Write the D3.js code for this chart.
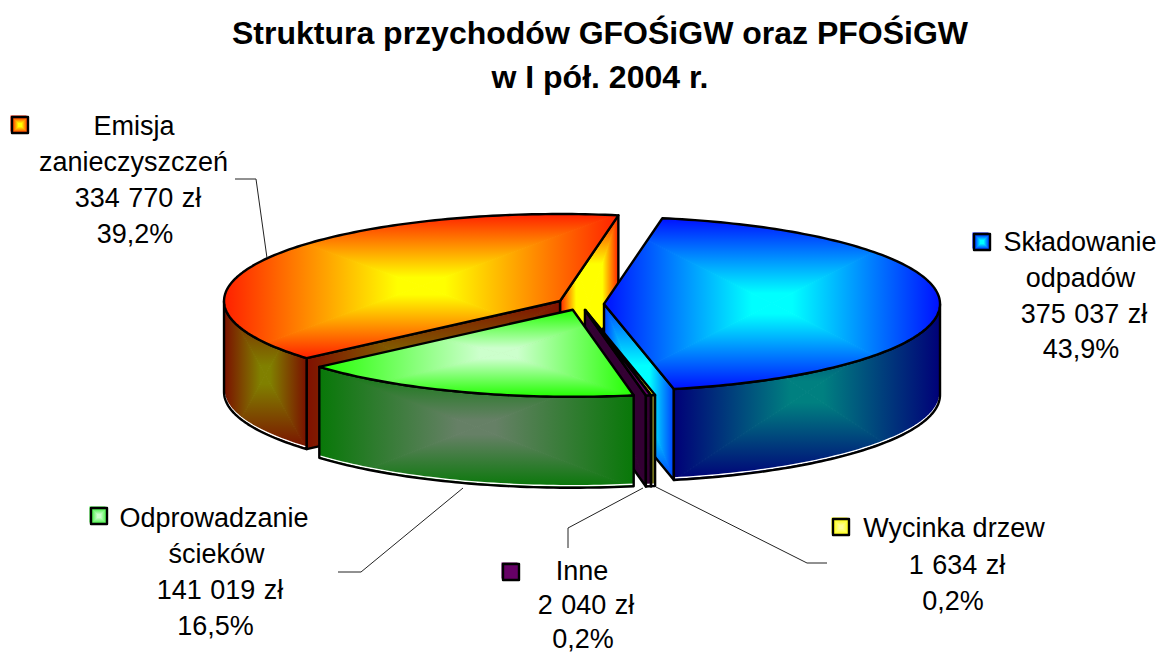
<!doctype html>
<html lang="pl">
<head>
<meta charset="utf-8" />
<title>Struktura przychodów</title>
<script src="https://d3js.org/d3.v7.min.js"></script>
<style>
    body { margin: 0; padding: 0; background: #fff; }
    svg { display: block; }
    text { font-family: "Liberation Sans", Arial, sans-serif; fill: #000; }
</style>
</head>
<body>
<script>
// dane
const categories = ["Składowanie odpadów", "Wycinka drzew", "Inne", "Odprowadzanie ścieków", "Emisja zanieczyszczeń"];
const values = [375037, 1634, 2040, 141019, 334770];
const amountLabels = ["375 037 zł", "1 634 zł", "2 040 zł", "141 019 zł", "334 770 zł"];
const percentLabels = ["43,9%", "0,2%", "0,2%", "16,5%", "39,2%"];
const titleLines = ["Struktura przychodów GFOŚiGW oraz PFOŚiGW", "w I pół. 2004 r."];

// kolory: [krawedz, srodek] dla kazdej sciany
const topColors = [["#0010ff", "#00ffff"], ["#ffff00", "#ffff00"], ["#660066", "#660066"], ["#22ff00", "#ccffcc"], ["#ff2000", "#ffff00"]];
const wallColors = [["#000078", "#008080"], ["#808020", "#808020"], ["#330033", "#330033"], ["#087808", "#668066"], ["#7a1000", "#808000"]];
const sideColors = [["#0040ff", "#00ffff"], ["#ffff00", "#ffff00"], ["#330033", "#330033"], ["#087808", "#668066"], ["#ff2000", "#ffff00"]];
const backWallColors = ["#801000", "#806000"];

// kolejnosc malowania: od tylu do przodu
const drawOrder = [4, 0, 1, 2, 3];

const width = 1160, height = 654;
const rotation = 10 * Math.PI / 180;
const explode = 0.07;
const depth = 91;

const svg = d3.select("body").append("svg").attr("width", width).attr("height", height);
const defs = svg.append("defs");

const x = d3.scaleLinear().domain([-1, 1]).range([244.5, 916.5]);
const y = d3.scaleLinear().domain([-1, 1]).range([217, 391]);

const slices = d3.pie().sort(null).startAngle(rotation).endAngle(rotation + 2 * Math.PI)(values);

const line = d3.line();
let uid = 0;

// gradient "od srodka": cztery trojkaty przyciete do ksztaltu
function facetFill(parent, points, colors, focus, plateau) {
    const x0 = d3.min(points, d => d[0]), x1 = d3.max(points, d => d[0]);
    const y0 = d3.min(points, d => d[1]), y1 = d3.max(points, d => d[1]);
    const fx = x0 + (x1 - x0) * (focus ? focus[0] : 0.5);
    const fy = y0 + (y1 - y0) * (focus ? focus[1] : 0.5);
    const id = "f" + (uid++);

    defs.append("clipPath").attr("id", id).append("path").attr("d", line(points) + "Z");
    const group = parent.append("g").attr("clip-path", `url(#${id})`);

    const facets = [
        { from: [fx, y0], tri: [[x0, y0], [x1, y0]] },
        { from: [x1, fy], tri: [[x1, y0], [x1, y1]] },
        { from: [fx, y1], tri: [[x1, y1], [x0, y1]] },
        { from: [x0, fy], tri: [[x0, y1], [x0, y0]] }
    ];
    facets.forEach((f, i) => {
        const gid = id + "g" + i;
        const grad = defs.append("linearGradient").attr("id", gid)
            .attr("gradientUnits", "userSpaceOnUse")
            .attr("x1", f.from[0]).attr("y1", f.from[1])
            .attr("x2", i % 2 ? fx : f.from[0]).attr("y2", i % 2 ? f.from[1] : fy);
        grad.append("stop").attr("offset", 0).attr("stop-color", colors[0]);
        grad.append("stop").attr("offset", plateau || 0.88).attr("stop-color", colors[1]);
        group.append("path")
            .attr("d", line([[fx, fy], f.tri[0], f.tri[1]]) + "Z")
            .attr("fill", `url(#${gid})`)
            .attr("stroke", `url(#${gid})`)
            .attr("stroke-width", 1);
    });
}

function outline(parent, points) {
    parent.append("path")
        .attr("d", line(points) + "Z")
        .attr("fill", "none")
        .attr("stroke", "#000")
        .attr("stroke-width", 2.4)
        .attr("stroke-linejoin", "round");
}

function drawSlice(i) {
    const s = slices[i];
    const mid = (s.startAngle + s.endAngle) / 2;
    const g = svg.append("g").attr("class", "slice");
    const ox = explode * Math.sin(mid), oy = -explode * Math.cos(mid);
    const pt = (a, r) => [x(ox + r * Math.sin(a)), y(oy - r * Math.cos(a))];
    const down = p => [p[0], p[1] + depth];
    const arcPts = (a0, a1) => {
        const n = Math.max(2, Math.ceil((a1 - a0) / 0.02));
        return d3.range(n + 1).map(k => pt(a0 + (a1 - a0) * k / n, 1));
    };
    const apex = pt(0, 0);
    const topFace = [apex, ...arcPts(s.startAngle, s.endAngle)];
    const full = 2 * Math.PI;

    // sciana promieniowa od strony kata poczatkowego (Emisja: zolta)
    if (i === 4) {
        const p = pt(s.endAngle, 1);
        const wall = [apex, p, down(p), down(apex)];
        facetFill(g, wall, sideColors[i], [0.5, 0.5], 0.55);
        outline(g, wall);
    }
    // sciana promieniowa od strony kata koncowego
    if (i !== 3) {
        const a = i === 4 ? s.startAngle : s.endAngle;
        const p = pt(a, 1);
        const wall = [apex, p, down(p), down(apex)];
        facetFill(g, wall, i === 4 ? backWallColors : sideColors[i], null, 0.7);
        outline(g, wall);
    }
    // sciana zewnetrzna: tylko przednia czesc luku
    const a0 = Math.max(s.startAngle, full / 4), a1 = Math.min(s.endAngle, 3 * full / 4);
    if (a1 > a0) {
        const upper = arcPts(a0, a1);
        const lower = upper.map(down);
        const wall = [...upper, ...lower.slice().reverse()];
        facetFill(g, wall, wallColors[i]);
        g.append("path")
            .attr("d", line(lower.map(p => [p[0], p[1] - 2])))
            .attr("fill", "none").attr("stroke", "#fff").attr("stroke-width", 1.5);
        outline(g, wall);
    }
    facetFill(g, topFace, topColors[i], i === 3 ? [0.58, 0.5] : null);
    outline(g, topFace);
}

drawOrder.forEach(drawSlice);

// linie odniesienia
const leaders = [
    [[235, 179], [256, 179], [267, 258]],
    [[338, 572], [361, 572], [463, 488]],
    [[568, 548], [568, 528], [643, 488]],
    [[656, 487], [807, 563], [827, 563]]
];
svg.append("g").selectAll("path").data(leaders).join("path")
    .attr("d", d => line(d))
    .attr("fill", "none")
    .attr("stroke", "#222")
    .attr("stroke-width", 1);

// tytul
svg.selectAll("text.title").data(titleLines).join("text")
    .attr("class", "title")
    .attr("x", 600)
    .attr("y", (d, i) => 44 + i * 43.5)
    .attr("text-anchor", "middle")
    .attr("font-size", 32)
    .attr("font-weight", "bold")
    .text(d => d);

// etykiety: podpis kategorii rozbity na wiersze
const labelLines = [
    ["Składowanie", "odpadów"],
    ["Wycinka drzew"],
    ["Inne"],
    ["Odprowadzanie", "ścieków"],
    ["Emisja", "zanieczyszczeń"]
];
const labelPos = [
    { lines: [1080, 1080.5, 1084, 1081], base: 251, leading: 35.8, key: [974, 234] },
    { lines: [954, 957, 953], base: 537, leading: 36.5, key: [833, 519] },
    { lines: [582, 586, 583], base: 580, leading: 34, key: [503, 564] },
    { lines: [214, 216.5, 220, 215.5], base: 527, leading: 36, key: [91, 508] },
    { lines: [134, 133.5, 138, 135], base: 135, leading: 36, key: [12, 117] }
];
const keyColors = [["#0010ff", "#00ffff"], ["#ffff00", "#ffff99"], ["#660066", "#660066"], ["#33ee33", "#ccffcc"], ["#ff2000", "#ffff00"]];

labelLines.forEach((ll, i) => {
    const pos = labelPos[i];
    const rows = [...ll, amountLabels[i], percentLabels[i]];
    svg.append("g").selectAll("text").data(rows).join("text")
        .attr("x", (d, k) => pos.lines[k])
        .attr("y", (d, k) => pos.base + k * pos.leading)
        .attr("text-anchor", "middle")
        .attr("font-size", 27)
        .attr("word-spacing", (d, k) => k === ll.length ? 1 : 0)
        .text(d => d);

    const [kx, ky] = pos.key;
    const square = [[kx, ky], [kx + 16, ky], [kx + 16, ky + 16], [kx, ky + 16]];
    const keyG = svg.append("g");
    // kolorowa obwodka przesunieta w lewo i do gory
    keyG.append("rect").attr("x", kx - 1.5).attr("y", ky - 1.5).attr("width", 16).attr("height", 16).attr("fill", keyColors[i][0]);
    facetFill(keyG, square, keyColors[i], null, 0.8);
    outline(keyG, square);
});
</script>
</body>
</html>
